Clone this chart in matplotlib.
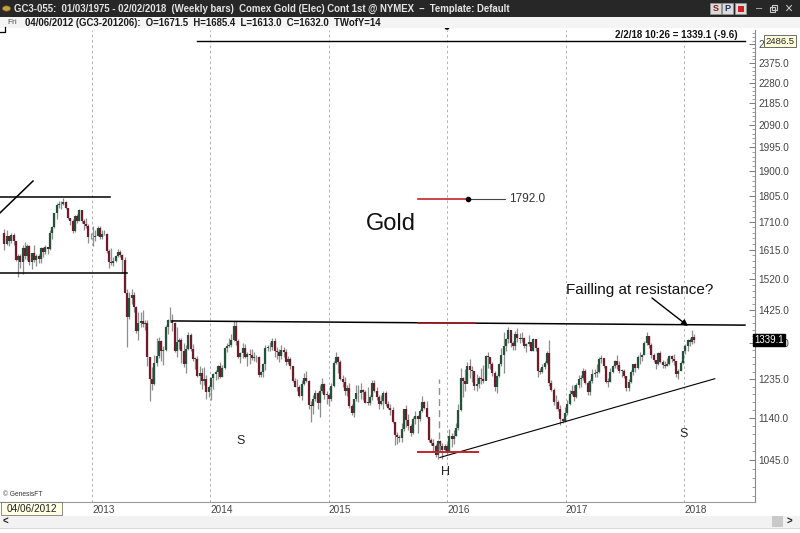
import numpy as np
import pandas as pd
import matplotlib
matplotlib.use("Agg")
import matplotlib.pyplot as plt
import matplotlib.dates as mdates
from matplotlib.collections import LineCollection
from matplotlib.patches import Rectangle, Circle
from matplotlib.ticker import FixedLocator, FixedFormatter, NullFormatter
from matplotlib import transforms

plt.rcParams['font.family'] = ['Liberation Sans', 'DejaVu Sans']

# ---------------- data (weekly bars, Comex gold) ----------------
first_open = 1671.5
close_2012 = [1632.0,1660,1643,1663, 1645,1580,1593,1573, 1621,1595,1627,1573,1604, 1580,1593,1583,1620,
              1607,1622,1616,1672,1691, 1740,1772,1774,1773, 1781,1759,1725,1713, 1677,1731,1714,1752,1712,
              1704,1696,1658,1656]
high_2012 = [1685.4,1680,1660,1670, 1670,1645,1600,1600, 1630,1640,1632,1630,1605, 1630,1600,1600,1625,
             1625,1630,1625,1680,1695, 1742,1778,1787,1785, 1798,1785,1760,1725, 1720,1735,1737,1755,1754,
             1722,1725,1702,1670]
low_2012 = [1613.0,1630,1627,1637, 1630,1576,1527,1555, 1535,1585,1580,1565,1550, 1575,1560,1570,1570,
            1590,1600,1600,1615,1650, 1690,1720,1760,1755, 1770,1755,1720,1700, 1672,1675,1705,1712,1705,
            1683,1690,1636,1650]

close_2013 = [1657,1662,1687,1657, 1667,1667,1610,1573, 1572,1578,1592,1607,1596, 1581,1476,1405,1462,
              1470,1434,1364,1386,1392, 1383,1388,1292,1234, 1222,1278,1295,1335, 1310,1312,1376,1395,1396,
              1387,1308,1333,1338, 1310,1273,1315,1352, 1315,1287,1287,1244,1251, 1230,1236,1203,1214]
high_2013 = [1694,1680,1695,1697, 1680,1683,1672,1617, 1619,1590,1597,1616,1615, 1600,1589,1488,1478,
             1487,1478,1438,1418,1419, 1424,1396,1395,1292, 1267,1298,1345,1348, 1340,1323,1382,1400,1434,
             1412,1389,1375,1344, 1345,1331,1324,1362, 1360,1327,1293,1296,1269, 1263,1267,1246,1220]
low_2013 = [1626,1645,1660,1650, 1652,1664,1605,1554, 1565,1562,1575,1590,1590, 1539,1475,1321,1400,
            1443,1420,1359,1338,1375, 1377,1366,1269,1180, 1207,1220,1270,1290, 1282,1271,1308,1355,1390,
            1363,1307,1292,1315, 1277,1267,1251,1313, 1308,1281,1262,1240,1222, 1211,1220,1185,1190]

close_2014 = [1238,1247,1254,1270,1240, 1263,1318,1323,1326, 1339,1379,1335,1294, 1303,1318,1293,1300,
              1299,1290,1293,1292,1245, 1253,1274,1316,1319, 1320,1337,1310,1307, 1295,1311,1306,1280,1287,
              1268,1231,1216,1214, 1192,1222,1237,1231,1171, 1169,1185,1201,1175, 1204,1222,1195,1195]
high_2014 = [1240,1251,1259,1272,1280, 1272,1320,1332,1345, 1355,1392,1392,1341, 1306,1331,1329,1305,
             1315,1315,1306,1297,1296, 1256,1277,1324,1325, 1333,1346,1346,1321, 1315,1324,1321,1314,1296,
             1294,1270,1239,1236, 1220,1233,1250,1255,1232, 1180,1194,1208,1203, 1221,1238,1226,1204]
low_2014 = [1182,1211,1232,1235,1238, 1240,1260,1305,1320, 1321,1335,1325,1290, 1277,1291,1290,1268,
            1275,1285,1281,1280,1240, 1240,1240,1259,1309, 1310,1311,1293,1287, 1280,1287,1294,1272,1274,
            1260,1227,1214,1204, 1190,1183,1220,1227,1161, 1130,1148,1180,1162, 1142,1201,1186,1172]

close_2015 = [1186,1217,1277,1293,1279, 1234,1227,1204,1213, 1167,1152,1184,1199, 1201,1207,1203,1176,
              1175,1189,1225,1205,1189, 1172,1181,1201,1173, 1164,1159,1131,1099,1095, 1094,1113,1160,1134,
              1121,1104,1138,1145, 1137,1156,1177,1163,1142, 1088,1081,1076,1056, 1087,1076,1066,1076]
high_2015 = [1198,1224,1283,1307,1295, 1284,1246,1240,1219, 1224,1174,1186,1219, 1220,1224,1209,1208,
             1215,1196,1232,1232,1215, 1196,1196,1205,1205, 1180,1173,1165,1131,1106, 1101,1127,1162,1170,
             1148,1125,1142,1157, 1147,1162,1192,1180,1181, 1143,1093,1090,1080, 1089,1088,1082,1080]
low_2015 = [1167,1180,1216,1275,1250, 1232,1216,1196,1193, 1164,1147,1142,1180, 1178,1184,1183,1175,
            1171,1170,1182,1202,1182, 1162,1170,1162,1168, 1162,1146,1128,1077,1080, 1084,1085,1110,1119,
            1112,1098,1103,1125, 1104,1132,1154,1160,1140, 1085,1077,1063,1052, 1046,1062,1047,1065]

close_2016 = [1061,1098,1090,1097,1116, 1158,1239,1231,1222, 1270,1258,1255,1218, 1222,1239,1235,1231,1296,
              1294,1273,1252,1216, 1244,1275,1299,1322, 1341,1366,1330,1322,1357, 1344,1343,1345,1322,
              1327,1333,1310,1341,1317, 1257,1254,1267,1276, 1304,1224,1207,1178, 1177,1161,1137,1133,1152]
high_2016 = [1081,1113,1105,1111,1127, 1174,1263,1240,1261, 1280,1287,1270,1256, 1247,1244,1263,1271,1299,
             1307,1291,1279,1255, 1245,1278,1318,1362, 1345,1377,1362,1336,1364, 1372,1360,1362,1348,
             1330,1352,1331,1346,1343, 1320,1264,1275,1282, 1309,1338,1232,1212, 1194,1183,1170,1140,1165]
low_2016 = [1058,1063,1072,1080,1097, 1111,1156,1191,1206, 1226,1238,1227,1207, 1206,1212,1223,1225,1236,
            1263,1260,1244,1206, 1200,1241,1270,1250, 1310,1330,1320,1312,1313, 1333,1332,1334,1316,
            1306,1323,1308,1310,1310, 1241,1247,1250,1261, 1273,1218,1205,1171, 1160,1157,1124,1127,1131]

close_2017 = [1173,1197,1205,1190, 1220,1234,1239,1257, 1226,1203,1230,1249,1251, 1254,1288,1289,1268,
              1228,1228,1254,1270, 1282,1271,1256,1257,1242, 1212,1228,1254,1274, 1264,1294,1292,1297,
              1330,1351,1325,1297,1284, 1275,1304,1280,1272, 1269,1274,1296,1288, 1281,1248,1257,1278,1309]
high_2017 = [1182,1207,1220,1220, 1226,1245,1245,1264, 1260,1230,1234,1260,1262, 1274,1292,1297,1288,
             1268,1239,1265,1272, 1285,1297,1281,1260,1260, 1244,1235,1259,1275, 1276,1297,1306,1300,
             1335,1362,1351,1330,1303, 1286,1306,1310,1284, 1283,1290,1299,1297, 1302,1281,1262,1282,1310]
low_2017 = [1146,1171,1195,1180, 1188,1212,1216,1232, 1223,1195,1196,1226,1240, 1240,1251,1276,1264,
            1226,1214,1228,1250, 1263,1262,1252,1240,1238, 1206,1204,1226,1246, 1254,1260,1273,1283,
            1297,1325,1317,1291,1280, 1261,1272,1278,1264, 1264,1268,1272,1280, 1272,1241,1236,1256,1273]

close_2018 = [1322,1338,1333,1348.7,1339.1]
high_2018 = [1327,1342,1345,1366,1357]
low_2018 = [1302,1308,1323,1329,1331]

year_ticks = ['2013', '2014', '2015', '2016', '2017', '2018']
price_ticks = [1045 + 95 * k for k in range(16)]

# drawn annotations (date, price)
top_resist = (('2012-03-23', '2013-02-25'), 1800)
low_support = (('2012-03-23', '2013-04-19'), 1538)
diag_line = (('2012-03-23', '2012-07-03'), (1742, 1861))
neckline = (('2013-09-08', '2018-07-08'), (1393, 1381))
neck_red = (('2015-10-03', '2016-03-27'), 1386)
head_red = (('2015-10-03', '2016-04-05'), 1062)
head_dash = ('2015-12-07', (1067, 1235))
uptrend = (('2015-12-10', '2018-04-06'), (1050, 1236))
mark_1792 = (('2015-10-03', '2016-03-05', '2016-06-27'), 1792.0)
top_line = (('2013-11-21', '2018-07-08'), 2486.5)
last_price = 1339.1

# ---------------- figure ----------------
W, H = 800, 533
fig = plt.figure(figsize=(8, 5.33), dpi=100)
fig.patch.set_facecolor('white')

def fx(x): return x / W
def fy(y): return 1 - y / H
def fxy(x, y): return (fx(x), fy(y))

ax = fig.add_axes([0, fy(502), fx(755), (502 - 30) / H])
ax.set_facecolor('white')

dates = pd.date_range('2012-04-06', '2018-02-02', freq='W-FRI')
close = np.array(close_2012 + close_2013 + close_2014 + close_2015 + close_2016 + close_2017 + close_2018, float)
high = np.array(high_2012 + high_2013 + high_2014 + high_2015 + high_2016 + high_2017 + high_2018, float)
low = np.array(low_2012 + low_2013 + low_2014 + low_2015 + low_2016 + low_2017 + low_2018, float)
n = min(len(dates), len(close))
xd = mdates.date2num(dates[:n])
close, high, low = close[:n], high[:n], low[:n]
opens = np.concatenate([[first_open], close[:-1]])

wicks = [[(x, l), (x, h)] for x, l, h in zip(xd, low, high)]
ax.add_collection(LineCollection(wicks, colors='#8e8e8e', linewidths=0.9, zorder=2))
bodies, bcol = [], []
for x, o, c in zip(xd, opens, close):
    lo_, hi_ = min(o, c), max(o, c)
    if hi_ - lo_ < 2:
        hi_ = lo_ + 2
    bodies.append([(x, lo_), (x, hi_)])
    bcol.append('#25503a' if c >= o else '#6e1b2b')
ax.add_collection(LineCollection(bodies, colors=bcol, linewidths=1.6, zorder=3, capstyle='butt'))

d = lambda s: mdates.date2num(pd.Timestamp(s))
x_left = d('2013-01-01') - 92 / 0.32421
x_right = d('2018-01-01') + 71 / 0.32421
ax.set_xlim(x_left, x_right)
ax.set_yscale('log')
ax.set_ylim(957.6, 2544)

# annotation lines
ax.plot([d(top_resist[0][0]), d(top_resist[0][1])], [top_resist[1]] * 2, color='black', lw=1.1, zorder=4)
ax.plot([d(low_support[0][0]), d(low_support[0][1])], [low_support[1]] * 2, color='black', lw=1.1, zorder=4)
ax.plot([d(diag_line[0][0]), d(diag_line[0][1])], diag_line[1], color='black', lw=1.1, zorder=4)
ax.plot([d(neckline[0][0]), d(neckline[0][1])], neckline[1], color='black', lw=1.1, zorder=4)
ax.plot([d(neck_red[0][0]), d(neck_red[0][1])], [neck_red[1]] * 2, color='#b01c24', lw=1.1, zorder=5)
ax.plot([d(head_red[0][0]), d(head_red[0][1])], [head_red[1]] * 2, color='#c0262c', lw=1.4, zorder=5)
ax.plot([d(head_dash[0])] * 2, head_dash[1], color='#909090', lw=1.0, ls=(0, (5, 3)), zorder=4)
ax.plot([d(uptrend[0][0]), d(uptrend[0][1])], uptrend[1], color='black', lw=0.8, zorder=4)
m = mark_1792
ax.plot([d(m[0][0]), d(m[0][1])], [m[1]] * 2, color='#c0262c', lw=1.2, zorder=5)
ax.plot([d(m[0][1]), d(m[0][2])], [m[1]] * 2, color='#444444', lw=0.8, zorder=5)
ax.plot([d(m[0][1])], [m[1]], 'o', color='black', ms=3, zorder=6)
ax.text(d(m[0][2]) + 12, m[1], f'{m[1]:.1f}', fontsize=8.5, color='#333333', va='center', ha='left')
ax.plot([d(top_line[0][0]), d(top_line[0][1])], [top_line[1]] * 2, color='black', lw=1.0, zorder=4,
        clip_on=False)

# axes styling
for s in ['left', 'top']:
    ax.spines[s].set_visible(False)
ax.spines['bottom'].set_color('#9a9a9a')
ax.spines['right'].set_color('#8a8a8a')
ax.spines['bottom'].set_linewidth(0.8)
ax.spines['right'].set_linewidth(0.8)

ax.set_xticks([d(f'{y}-01-01') for y in year_ticks])
ax.set_xticklabels(year_ticks)
for lab in ax.get_xticklabels():
    lab.set_ha('left')
ax.tick_params(axis='x', length=0, labelsize=7.2, labelcolor='#444444', pad=2)
ax.grid(axis='x', color='#b0b0b0', linestyle=(0, (2.5, 3)), linewidth=0.7)
ax.grid(axis='y', visible=False)

ax.yaxis.tick_right()
ax.yaxis.set_major_locator(FixedLocator(price_ticks))
ax.yaxis.set_major_formatter(FixedFormatter([f'{v:.1f}' for v in price_ticks]))
minors = [v for v in np.arange(969, 2560, 19) if (v - 1045) % 95 != 0]
ax.yaxis.set_minor_locator(FixedLocator(minors))
ax.yaxis.set_minor_formatter(NullFormatter())
ax.tick_params(axis='y', which='major', direction='in', length=4.5, width=0.6, color='#666666',
               labelsize=7.2, labelcolor='#444444', pad=2.5)
ax.tick_params(axis='y', which='minor', direction='in', length=2.3, width=0.5, color='#777777')

# price boxes on the axis
bt = transforms.blended_transform_factory(fig.transFigure, ax.transData)
fig.text(fx(769), last_price, f'{last_price:.1f}', transform=bt, fontsize=7, color='white',
         ha='center', va='center', bbox=dict(boxstyle='square,pad=0.15', fc='black', ec='black'))
fig.text(fx(780), top_line[1], f'{top_line[1]:.1f}', transform=bt, fontsize=6.8, color='#222222',
         ha='center', va='center', bbox=dict(boxstyle='square,pad=0.15', fc='#ffffdc', ec='#555555', lw=0.6))

# chart texts
fig.text(*fxy(391, 224), 'Gold', fontsize=17, ha='center', va='center', color='#111111')
fig.text(*fxy(640, 290), 'Failling at resistance?', fontsize=11, ha='center', va='center', color='#111111')
fig.text(*fxy(241, 441), 'S', fontsize=9, ha='center', va='center', color='#222222')
fig.text(*fxy(445, 472), 'H', fontsize=9, ha='center', va='center', color='#222222')
fig.text(*fxy(684, 434), 'S', fontsize=9, ha='center', va='center', color='#222222')
ax.annotate('', xy=fxy(688, 326), xycoords='figure fraction', xytext=fxy(652, 298),
            textcoords='figure fraction',
            arrowprops=dict(arrowstyle='-|>', color='black', lw=1.0, mutation_scale=9, shrinkA=0, shrinkB=0))
fig.text(*fxy(738, 35), '2/2/18 10:26 = 1339.1 (-9.6)', fontsize=7, fontweight='bold', ha='right',
         va='center', color='#111111')
fig.text(*fxy(3, 494), '© GenesisFT', fontsize=4.8, ha='left', va='center', color='#333333')
fig.add_artist(Circle(fxy(447, 28), 1.6 / W, transform=fig.transFigure, color='black'))
fig.add_artist(plt.Line2D([fx(0), fx(5), fx(5)], [fy(32), fy(32), fy(27)], transform=fig.transFigure,
                          color='black', lw=0.9))

# title bar
fig.add_artist(Rectangle((0, fy(17)), 1, 17 / H, transform=fig.transFigure, fc='#272727', ec='none', zorder=5))
fig.add_artist(Circle(fxy(6.5, 8.5), 4 / W, transform=fig.transFigure, fc='#c8a040', ec='#806020', lw=0.5,
                      zorder=6))
fig.text(*fxy(14, 8.5), 'GC3-055:  01/03/1975 - 02/02/2018  (Weekly bars)  Comex Gold (Elec) Cont 1st @ NYMEX  \u2013  Template: Default',
         fontsize=6.95, fontweight='bold', color='#e6e6e6', ha='left', va='center', zorder=7)
for x0, lab, col in [(710, 'S', '#8a2020'), (722, 'P', '#203070')]:
    fig.add_artist(Rectangle(fxy(x0, 14), 11 / W, 11 / H, transform=fig.transFigure, fc='#dcdcdc',
                             ec='#999999', lw=0.5, zorder=6))
    fig.text(*fxy(x0 + 5.5, 8.5), lab, fontsize=6.5, fontweight='bold', color=col, ha='center', va='center', zorder=7)
fig.add_artist(Rectangle(fxy(735, 14), 11 / W, 11 / H, transform=fig.transFigure, fc='#dcdcdc',
                         ec='#999999', lw=0.5, zorder=6))
fig.add_artist(Rectangle(fxy(738, 12), 6 / W, 6 / H, transform=fig.transFigure, fc='#d02020', ec='none', zorder=7))
fig.text(*fxy(759, 8.5), '\u2013', fontsize=8, color='#cccccc', ha='center', va='center', zorder=7)
# restore-window glyph drawn as two small overlapping squares
fig.add_artist(Rectangle(fxy(770, 12), 5 / W, 5 / H, transform=fig.transFigure, fc='none',
                         ec='#cccccc', lw=0.8, zorder=7))
fig.add_artist(Rectangle(fxy(772, 10), 5 / W, 5 / H, transform=fig.transFigure, fc='#272727',
                         ec='#cccccc', lw=0.8, zorder=6.5))
fig.text(*fxy(788, 8.5), '\u00d7', fontsize=10, color='#cccccc', ha='center', va='center', zorder=7)

# header row
fig.add_artist(Rectangle((0, fy(28)), 1, 11 / H, transform=fig.transFigure, fc='#f4f4f4', ec='none', zorder=1))
fig.text(*fxy(7, 22.5), 'Fri', fontsize=6, color='#555555', ha='left', va='center', zorder=7)
fig.text(*fxy(25, 22.5), '04/06/2012 (GC3-201206):  O=1671.5  H=1685.4  L=1613.0  C=1632.0  TWofY=14',
         fontsize=6.95, fontweight='bold', color='#1a1a1a', ha='left', va='center', zorder=7)

# bottom date box and scrollbar
fig.add_artist(Rectangle(fxy(1, 515), 61 / W, 13 / H, transform=fig.transFigure, fc='#ffffe4',
                         ec='#777777', lw=0.6, zorder=6))
fig.text(*fxy(31.5, 508.5), '04/06/2012', fontsize=7.2, color='#222222', ha='center', va='center', zorder=7)
fig.add_artist(Rectangle(fxy(0, 528), 1, 12 / H, transform=fig.transFigure, fc='#f2f2f2', ec='none', zorder=1))
fig.add_artist(plt.Line2D([0, 1], [fy(528), fy(528)], transform=fig.transFigure, color='#d0d0d0', lw=0.6))
fig.add_artist(Rectangle(fxy(772, 527), 11 / W, 11 / H, transform=fig.transFigure, fc='#c9c9c9',
                         ec='none', zorder=6))
fig.text(*fxy(5, 521.5), '<', fontsize=7, fontweight='bold', color='#222222', ha='center', va='center')
fig.text(*fxy(789, 521.5), '>', fontsize=7, fontweight='bold', color='#222222', ha='center', va='center')

fig.savefig('out.png', dpi=100)
